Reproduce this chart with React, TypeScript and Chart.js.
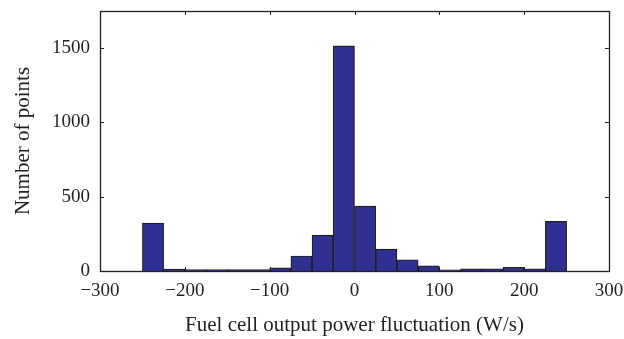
import React, { useEffect, useRef } from "react";
import { Chart, registerables } from "chart.js";

Chart.register(...registerables);

const binWidth = 25;
const binStarts = [
  -250, -225, -200, -175, -150, -125, -100, -75, -50, -25,
  0, 25, 50, 75, 100, 125, 150, 175, 200, 225,
];
const counts = [
  323, 13, 10, 10, 10, 10, 22, 101, 242, 1516,
  437, 148, 76, 34, 8, 15, 15, 25, 15, 334,
];
const xTicks = [-300, -200, -100, 0, 100, 200, 300];
const yTicks = [0, 500, 1000, 1500];

const FONT = "'Liberation Serif', 'Times New Roman', serif";
const TEXT = "#231f20";

const fmt = (v: number) => (v < 0 ? "\u2212" + Math.abs(v) : String(v));

const frameTicks = {
  id: "frameTicks",
  beforeDatasetsDraw(chart: any) {
    const { ctx, chartArea: a, scales } = chart;
    const L = 4;
    ctx.save();
    ctx.strokeStyle = TEXT;
    ctx.lineWidth = 1;
    ctx.beginPath();
    for (const v of xTicks) {
      const x = Math.round(scales.x.getPixelForValue(v)) + 0.5;
      ctx.moveTo(x, a.bottom);
      ctx.lineTo(x, a.bottom - L);
      ctx.moveTo(x, a.top);
      ctx.lineTo(x, a.top + L);
    }
    for (const v of yTicks) {
      const y = Math.round(scales.y.getPixelForValue(v)) + 0.5;
      ctx.moveTo(a.left, y);
      ctx.lineTo(a.left + L, y);
      ctx.moveTo(a.right, y);
      ctx.lineTo(a.right - L, y);
    }
    ctx.stroke();
    ctx.restore();
  },
  afterDraw(chart: any) {
    const { ctx, chartArea: a } = chart;
    ctx.save();
    ctx.strokeStyle = TEXT;
    ctx.lineWidth = 1.3;
    ctx.strokeRect(Math.round(a.left) + 0.5, Math.round(a.top) + 0.5, Math.round(a.right - a.left), Math.round(a.bottom - a.top));
    ctx.restore();
  },
};

export default function App() {
  const ref = useRef<HTMLCanvasElement | null>(null);
  useEffect(() => {
    const data = binStarts.map((s, i) => ({ x: s + binWidth / 2, y: counts[i] }));
    const chart = new Chart(ref.current as HTMLCanvasElement, {
      type: "bar",
      data: {
        datasets: [
          {
            data: data as any,
            backgroundColor: "#2f3192",
            borderColor: "#1e1e1e",
            borderWidth: 1.2,
            barPercentage: 1,
            categoryPercentage: 1,
          },
        ],
      },
      options: {
        responsive: false,
        animation: false,
        devicePixelRatio: 1,
        layout: { padding: { top: 11, right: 15, left: 0, bottom: 0 } },
        plugins: { legend: { display: false }, tooltip: { enabled: false } },
        scales: {
          x: {
            type: "linear",
            min: -300,
            max: 300,
            offset: false,
            grid: { display: false, drawTicks: false },
            border: { display: false },
            afterBuildTicks: (s: any) => {
              s.ticks = xTicks.map((v) => ({ value: v }));
            },
            afterFit: (s: any) => {
              s.height = 68;
              s.paddingLeft = 0;
              s.paddingRight = 0;
            },
            ticks: {
              padding: 9,
              color: TEXT,
              font: { family: FONT, size: 19 },
              callback: (v: any) => fmt(Number(v)),
              maxRotation: 0,
            },
            title: {
              display: true,
              text: "Fuel cell output power fluctuation (W/s)",
              color: TEXT,
              font: { family: FONT, size: 21 },
              padding: { top: 6, bottom: 1 },
            },
          },
          y: {
            min: 0,
            max: 1750,
            grid: { display: false, drawTicks: false },
            border: { display: false },
            afterBuildTicks: (s: any) => {
              s.ticks = yTicks.map((v) => ({ value: v }));
            },
            afterFit: (s: any) => {
              s.width = 100;
              s.paddingTop = 0;
              s.paddingBottom = 0;
            },
            ticks: {
              padding: 10,
              color: TEXT,
              font: { family: FONT, size: 19 },
              callback: (v: any) => fmt(Number(v)),
            },
            title: {
              display: true,
              text: "Number of points",
              color: TEXT,
              font: { family: FONT, size: 21 },
              padding: { top: 11, bottom: 4 },
            },
          },
        },
      },
      plugins: [frameTicks],
    });
    return () => chart.destroy();
  }, []);
  return (
    <div style={{ position: "fixed", left: 0, top: 0, width: 624, height: 339, background: "#fff" }}>
      <canvas ref={ref} width={624} height={339} style={{ display: "block" }} />
    </div>
  );
}
